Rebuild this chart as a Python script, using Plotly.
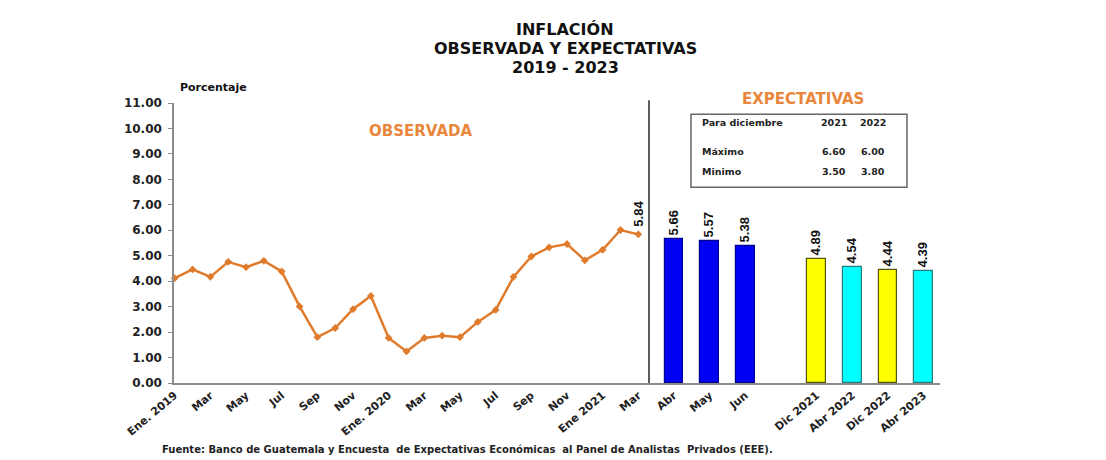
import plotly.graph_objects as go

# Monthly observed inflation, Jan 2019 - Mar 2021 (percent)
observada = [4.12, 4.46, 4.17, 4.76, 4.55, 4.80, 4.38, 3.01, 1.80, 2.16, 2.90, 3.42,
             1.77, 1.24, 1.77, 1.86, 1.80, 2.40, 2.87, 4.17, 4.97, 5.33, 5.46, 4.82,
             5.23, 6.01, 5.84]

# Expected inflation (survey)
exp_labels = ["Abr", "May", "Jun", "Dic 2021", "Abr 2022", "Dic 2022", "Abr 2023"]
exp_values = [5.66, 5.57, 5.38, 4.89, 4.54, 4.44, 4.39]
exp_fill = ["#0000F5", "#0000F5", "#0000F5", "#FFFF00", "#00FFFF", "#FFFF00", "#00FFFF"]
exp_edge = ["#00008A", "#00008A", "#00008A", "#55550A", "#2A7A7A", "#55550A", "#2A7A7A"]

# Axis slots: one slot per two months on the observed side, one per expectation bar
tick_labels = ["Ene. 2019", "Mar", "May", "Jul", "Sep", "Nov", "Ene. 2020", "Mar", "May",
               "Jul", "Sep", "Nov", "Ene 2021", "Mar", "Abr", "May", "Jun", "",
               "Dic 2021", "Abr 2022", "Dic 2022", "Abr 2023"]
n_obs_slots = 14

# Summary table of the survey
tabla_cols = ["2021", "2022"]
tabla_rows = ["Máximo", "Minimo"]
tabla_vals = [["6.60", "6.00"], ["3.50", "3.80"]]

ORANGE = "#E07B2C"
ORANGE_TXT = "#E8873C"
FONT = "DejaVu Sans"
NARROW = "Liberation Sans Narrow, Arial Narrow, Liberation Sans, Arial, sans-serif"

obs_x = [i / 2 for i in range(len(observada))]
bar_slots = [i for i, t in enumerate(tick_labels) if i >= n_obs_slots and t]
tick_slots = [i for i, t in enumerate(tick_labels) if t]

fig = go.Figure()

fig.add_trace(go.Scatter(
    x=obs_x, y=observada, mode="lines+markers",
    line=dict(color=ORANGE, width=2.5),
    marker=dict(symbol="diamond", size=6, color=ORANGE),
    cliponaxis=False, hoverinfo="skip", showlegend=False,
))

fig.add_trace(go.Bar(
    x=bar_slots, y=exp_values, width=0.52,
    marker=dict(color=exp_fill, line=dict(color=exp_edge, width=1.2)),
    text=[f"{v:.2f}" for v in exp_values], textposition="outside",
    constraintext="none",
    textangle=-90, outsidetextfont=dict(family=NARROW, size=13, color="#111111", weight="bold"),
    cliponaxis=False, hoverinfo="skip", showlegend=False,
))

# Last observed value label
fig.add_annotation(
    x=obs_x[-1], y=observada[-1], text=f"{observada[-1]:.2f}", textangle=-90,
    showarrow=False, xanchor="center", yanchor="bottom", yshift=6,
    font=dict(family=NARROW, size=13, color="#111111", weight="bold"),
)

# Separator between observed and expected
fig.add_shape(type="line", xref="x", yref="paper", x0=13.3, x1=13.3, y0=0, y1=1.01,
              line=dict(color="#333333", width=1.6))

def px_x(p):
    return (p - 174) / 766

def px_y(p):
    return (382.7 - p) / 280

# Titles
for txt, y in [("INFLACIÓN", 29), ("OBSERVADA Y EXPECTATIVAS", 48), ("2019 - 2023", 67)]:
    fig.add_annotation(xref="paper", yref="paper", x=px_x(565), y=px_y(y), text=txt,
                       showarrow=False, xanchor="center", yanchor="middle",
                       font=dict(family=FONT, size=16, color="#111111", weight="bold"))

fig.add_annotation(xref="paper", yref="paper", x=px_x(178), y=px_y(87), text="Porcentaje",
                   showarrow=False, xanchor="left", yanchor="middle",
                   font=dict(family=FONT, size=11, color="#111111", weight="bold"))

fig.add_annotation(xref="paper", yref="paper", x=px_x(420), y=px_y(131), text="OBSERVADA",
                   showarrow=False, xanchor="center", yanchor="middle",
                   font=dict(family=FONT, size=15, color=ORANGE_TXT, weight="bold"))
fig.add_annotation(xref="paper", yref="paper", x=px_x(803), y=px_y(99), text="EXPECTATIVAS",
                   showarrow=False, xanchor="center", yanchor="middle",
                   font=dict(family=FONT, size=15, color=ORANGE_TXT, weight="bold"))

# Survey table
fig.add_shape(type="rect", xref="paper", yref="paper",
              x0=px_x(691), x1=px_x(907), y0=px_y(187), y1=px_y(114),
              line=dict(color="#666666", width=1.5), fillcolor="white")
tfont = dict(family=FONT, size=9.5, color="#222222", weight="bold")
col_x = [834, 873]
fig.add_annotation(xref="paper", yref="paper", x=px_x(700), y=px_y(122), text="Para diciembre",
                   showarrow=False, xanchor="left", yanchor="middle", font=tfont)
for cx, c in zip(col_x, tabla_cols):
    fig.add_annotation(xref="paper", yref="paper", x=px_x(cx), y=px_y(122), text=c,
                       showarrow=False, xanchor="center", yanchor="middle", font=tfont)
for ry, name, vals in zip([151.5, 171], tabla_rows, tabla_vals):
    fig.add_annotation(xref="paper", yref="paper", x=px_x(700), y=px_y(ry), text=name,
                       showarrow=False, xanchor="left", yanchor="middle", font=tfont)
    for cx, v in zip(col_x, vals):
        fig.add_annotation(xref="paper", yref="paper", x=px_x(cx), y=px_y(ry), text=v,
                           showarrow=False, xanchor="center", yanchor="middle", font=tfont)

# Source note
fig.add_annotation(xref="paper", yref="paper", x=px_x(160), y=px_y(449),
                   text="Fuente: Banco de Guatemala y Encuesta  de Expectativas Económicas  al Panel de Analistas  Privados (EEE).",
                   showarrow=False, xanchor="left", yanchor="middle",
                   font=dict(family=FONT, size=10, color="#222222", weight="bold"))

fig.update_layout(
    width=1106, height=460,
    margin=dict(l=174, r=166, t=103, b=77),
    paper_bgcolor="white", plot_bgcolor="white",
    bargap=0,
    font=dict(family=FONT, color="#222222"),
)
fig.update_xaxes(
    range=[-0.02, 21.46], tickmode="array",
    tickvals=tick_slots, ticktext=[tick_labels[i] for i in tick_slots],
    tickangle=-40, showgrid=False, zeroline=False,
    showline=True, linecolor="#8C8C8C", linewidth=1.5, ticks="",
    tickfont=dict(family=FONT, size=11, color="#222222", weight="bold"),
)
fig.update_yaxes(
    range=[0, 11], dtick=1, tickformat=".2f", showgrid=False, zeroline=False,
    showline=True, linecolor="#8C8C8C", linewidth=1.5,
    ticks="outside", ticklen=4, tickcolor="#8C8C8C", ticklabelstandoff=4,
    tickfont=dict(family=FONT, size=12, color="#222222", weight="bold"),
)

fig.write_html("out.html")
